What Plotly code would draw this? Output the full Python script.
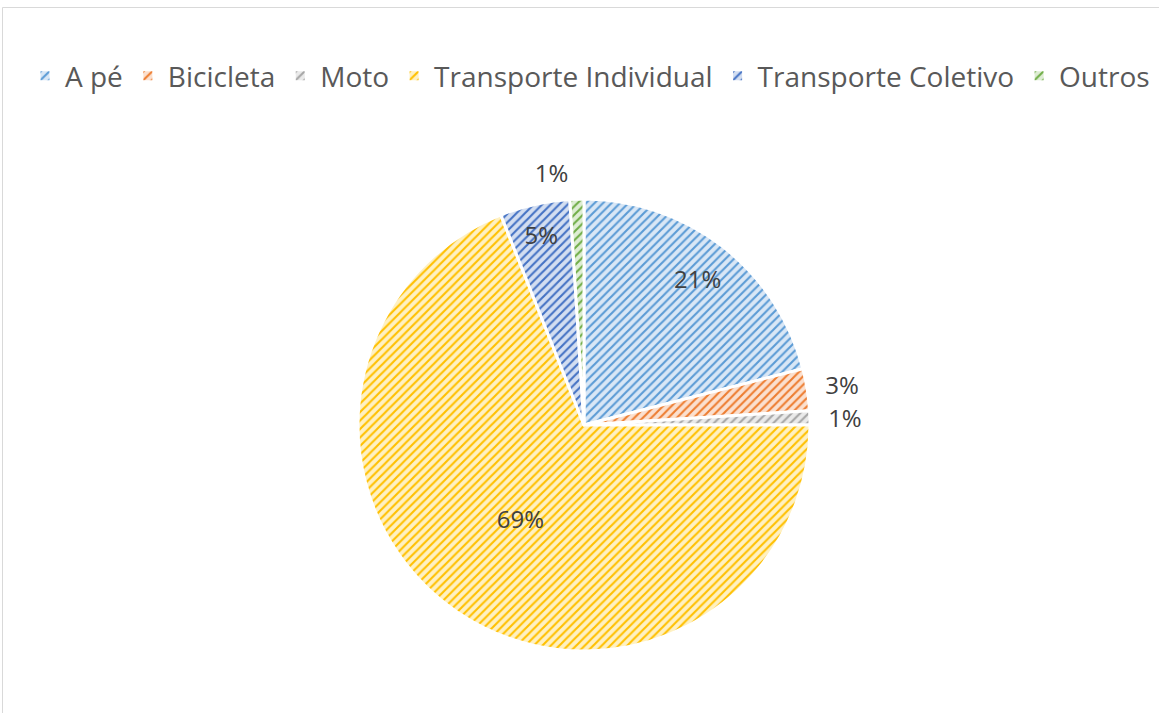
import plotly.graph_objects as go

labels = ["A pé", "Bicicleta", "Moto", "Transporte Individual", "Transporte Coletivo", "Outros"]
values = [21, 3, 1, 69, 5, 1]
colors = ["#5B9BD5", "#ED7D31", "#A5A5A5", "#FFC000", "#4472C4", "#70AD47"]
bg_colors = ["#D9E7F6", "#FBE0CF", "#EAEAEA", "#FFF1C2", "#D3DEF1", "#DEEDD4"]
# where each label is drawn
main_text = ["none", "none", "none", "inside", "inside", "none"]
ring_text = ["inside", "none", "none", "none", "none", "none"]
outer_text = ["none", "outside", "outside", "none", "none", "outside"]

W, H = 1159, 713
mt, mb = 150, 40
ph = H - mt - mb
cx, cy, R = 584, 425, 226

def py(y):
    return (H - mb - y) / ph

def dom(r):
    yc = py(cy)
    h = r / ph
    return dict(x=[cx / W - 0.3, cx / W + 0.3], y=[yc - h, yc + h])

label_font = dict(family="Open Sans, sans-serif", size=24, color="#404040")
clear = ["rgba(0,0,0,0)"] * len(values)

fig = go.Figure()
fig.add_trace(go.Pie(
    labels=labels, values=values, sort=False, direction="clockwise", rotation=0,
    texttemplate="%{percent:.0%}", textposition=main_text,
    insidetextorientation="horizontal", textfont=label_font,
    marker=dict(
        colors=bg_colors,
        line=dict(color="white", width=3),
        pattern=dict(shape="/", fgcolor=colors, bgcolor=bg_colors, size=6, solidity=0.35),
    ),
    domain=dom(R), automargin=False, hoverinfo="label+percent",
))
fig.add_trace(go.Pie(
    labels=labels, values=values, sort=False, direction="clockwise", rotation=0,
    texttemplate="%{percent:.0%}", textposition=ring_text, hole=0.64,
    insidetextorientation="horizontal", textfont=label_font,
    marker=dict(colors=clear, line=dict(width=0)),
    domain=dom(R), automargin=False, hoverinfo="skip", showlegend=False,
))
fig.add_trace(go.Pie(
    labels=labels, values=values, sort=False, direction="clockwise", rotation=0,
    texttemplate="%{percent:.0%}", textposition=outer_text,
    textfont=label_font, hole=0.98,
    marker=dict(colors=clear, line=dict(width=0)),
    domain=dom(R + 10), automargin=False, hoverinfo="skip", showlegend=False,
))

fig.update_layout(
    width=W, height=H,
    margin=dict(l=0, r=0, t=mt, b=mb),
    paper_bgcolor="white",
    plot_bgcolor="white",
    showlegend=True,
    legend=dict(
        orientation="h",
        x=25 / W, xanchor="left",
        y=py(76), yanchor="middle",
        font=dict(family="Open Sans, sans-serif", size=28, color="#595959"),
        itemwidth=30,
        tracegroupgap=0,
    ),
    shapes=[
        dict(type="line", xref="paper", yref="paper", x0=2.5 / W, x1=2.5 / W, y0=py(7.5), y1=py(713),
             line=dict(color="#D9D9D9", width=1)),
        dict(type="line", xref="paper", yref="paper", x0=2.5 / W, x1=1.0, y0=py(7.5), y1=py(7.5),
             line=dict(color="#D9D9D9", width=1)),
    ],
)

post = (
    "document.body.style.margin='0';"
    "var s=document.createElement('style');"
    "s.innerHTML='.textline{display:none}';"
    "document.head.appendChild(s);"
)
fig.write_html("out.html", post_script=post, config={"displayModeBar": False})
